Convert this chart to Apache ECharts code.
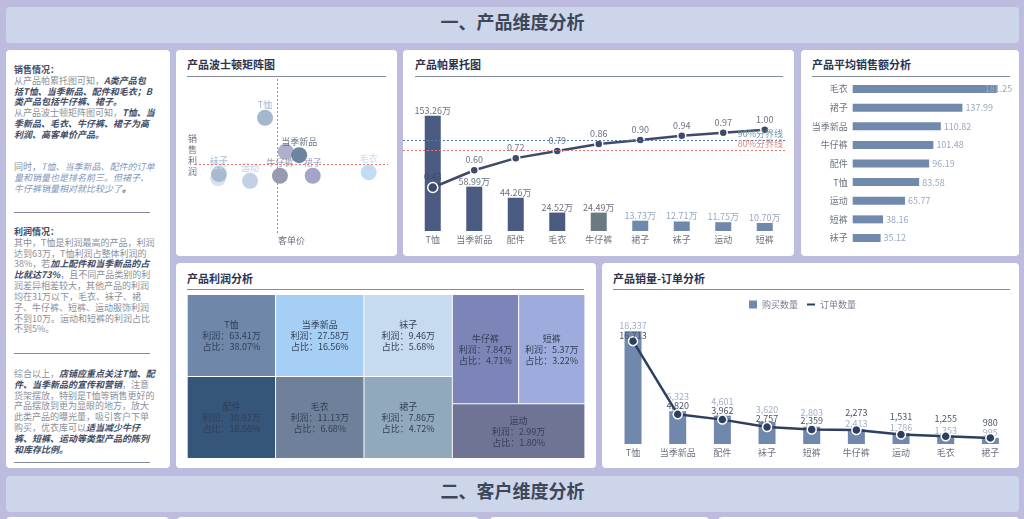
<!DOCTYPE html>
<html>
<head>
<meta charset="utf-8">
<title>产品维度分析</title>
<script src="https://cdn.jsdelivr.net/npm/echarts@6/dist/echarts.min.js"></script>
<style>
  html, body { margin: 0; padding: 0; width: 1024px; height: 519px; overflow: hidden; background: #bdbcdf; }
  body { position: relative; font-family: 'Noto Sans CJK SC', sans-serif; }
  .box { position: absolute; background: #fff; border-radius: 4px; }
  .bar { position: absolute; left: 6px; width: 1013px; height: 36px; background: #cdd5ea; border-radius: 4px;
         color: #3e4759; font-size: 18px; font-weight: bold; line-height: 28px; text-align: center; }
  .head { position: absolute; height: 14px; font-size: 11px; line-height: 14px; font-weight: bold; color: #2b3350;
          border-bottom: 0; }
  .rule { position: absolute; height: 1px; background: #858b9f; }
  .txt { position: absolute; left: 14px; width: 156px; font-size: 9px; line-height: 10.83px; color: #8b8f99; white-space: nowrap; }
  .txt b { color: #3f4c66; font-style: italic; }
  .txt i { color: #7f97bd; }
  .txt u { color: #3f4c66; font-weight: bold; text-decoration: none; }
  #chart { position: absolute; left: 0; top: 0; width: 1024px; height: 519px; }
</style>
</head>
<body>
<div class="bar" style="top:7px">一、产品维度分析</div>
<div class="box" style="left:6px;top:50px;width:164px;height:418px"></div>
<div class="box" style="left:176px;top:50px;width:221px;height:206px"></div>
<div class="box" style="left:403px;top:50px;width:391px;height:206px"></div>
<div class="box" style="left:801px;top:50px;width:218px;height:206px"></div>
<div class="box" style="left:176px;top:263px;width:420px;height:205px"></div>
<div class="box" style="left:602px;top:263px;width:417px;height:205px"></div>
<div class="bar" style="top:476px">二、客户维度分析</div>
<div class="box" style="left:6px;top:517px;width:163px;height:8px"></div>
<div class="box" style="left:177px;top:517px;width:302px;height:8px"></div>
<div class="box" style="left:490px;top:517px;width:219px;height:8px"></div>
<div class="box" style="left:718px;top:517px;width:301px;height:8px"></div>

<div class="head" style="left:187px;top:57px">产品波士顿矩阵图</div>
<div class="rule" style="left:187px;top:76px;width:199px"></div>
<div class="head" style="left:415px;top:57px">产品帕累托图</div>
<div class="rule" style="left:415px;top:76px;width:368px"></div>
<div class="head" style="left:812px;top:57px">产品平均销售额分析</div>
<div class="rule" style="left:812px;top:76px;width:198px"></div>
<div class="head" style="left:187px;top:271px">产品利润分析</div>
<div class="rule" style="left:187px;top:289px;width:397px"></div>
<div class="head" style="left:613px;top:271px">产品销量-订单分析</div>
<div class="rule" style="left:613px;top:289px;width:397px"></div>

<div class="txt" style="top:65px"><u>销售情况：</u><br>从产品帕累托图可知，<b>A类产品包<br>括T恤、当季新品、配件和毛衣；B<br>类产品包括牛仔裤、裙子。</b><br>从产品波士顿矩阵图可知，<b>T恤、当<br>季新品、毛衣、牛仔裤、裙子为高<br>利润、高客单价产品。</b></div>
<div class="txt" style="top:162px">同时，<i>T恤、当季新品、配件的订单<br>量和销量也是排名前三。但裙子、<br>牛仔裤销量相对就比较少了<b>。</b></i></div>
<div class="rule" style="left:14px;top:212px;width:136px"></div>
<div class="txt" style="top:227px"><u>利润情况：</u><br>其中，T恤是利润最高的产品，利润<br>达到63万，T恤利润占整体利润的<br>38%，若<b>加上配件和当季新品的占<br>比就达73%</b>，且不同产品类别的利<br>润差异相差较大，其他产品的利润<br>均在31万以下，毛衣、袜子、裙<br>子、牛仔裤、短裤、运动服饰利润<br>不到10万。运动和短裤的利润占比<br>不到5%。</div>
<div class="rule" style="left:14px;top:353px;width:136px"></div>
<div class="txt" style="top:369px">综合以上，<b>店铺应重点关注T恤、配<br>件、当季新品的宣传和营销</b>，注意<br>货架摆放，特别是T恤等销售更好的<br>产品摆放到更为显眼的地方，放大<br>此类产品的曝光量，吸引客户下单<br>购买，优衣库可以<b>适当减少牛仔<br>裤、短裤、运动等类型产品的陈列<br>和库存比例。</b></div>
<div class="rule" style="left:14px;top:462px;width:136px"></div>

<div id="chart"></div>

<script>
// 波士顿矩阵
var bcgNames = ['配件', 'T恤', '当季新品', '牛仔裤', '裙子', '毛衣', '短裤', '袜子', '运动']
var bcgPrice = [47, 36.3, 54, 44, 61, 90, 12, 12.4, 28.5]
var bcgProfit = [30.91, 63.41, 27.58, 7.84, 7.86, 11.13, 5.37, 9.46, 2.99]
var bcgColors = ['#a9a8c4', '#9db0cb', '#5f7a96', '#8e93a8', '#9a9dc2', '#bcd9f2', '#d3dff0', '#a3b9cd', '#bfcbe6']

// 帕累托
var paretoNames = ['T恤', '当季新品', '配件', '毛衣', '牛仔裤', '裙子', '袜子', '运动', '短裤']
var paretoSales = [153.26, 58.99, 44.26, 24.52, 24.49, 13.73, 12.71, 11.75, 10.70]
var paretoCum = [0.43, 0.60, 0.72, 0.79, 0.86, 0.90, 0.94, 0.97, 1.00]
var paretoColors = ['#4a5a80', '#4a5a80', '#4a5a80', '#4a5a80', '#6a7a80', '#6f88ab', '#6f88ab', '#6f88ab', '#6f88ab']
var paretoLabelColors = ['#6b7280', '#6b7280', '#6b7280', '#6b7280', '#6b7280', '#98a7c0', '#98a7c0', '#98a7c0', '#98a7c0']

// 平均销售额
var avgNames = ['毛衣', '裙子', '当季新品', '牛仔裤', '配件', 'T恤', '运动', '短裤', '袜子']
var avgSales = [181.25, 137.99, 110.82, 101.48, 96.19, 83.58, 65.77, 38.16, 35.12]

// 利润矩形树图，格子面积相同
var treeNames = ['T恤', '配件', '当季新品', '毛衣', '袜子', '裙子', '牛仔裤', '短裤', '运动']
var treeProfit = ['63.41', '30.91', '27.58', '11.13', '9.46', '7.86', '7.84', '5.37', '2.99']
var treeShare = ['38.07', '18.56', '16.56', '6.68', '5.68', '4.72', '4.71', '3.22', '1.80']
var treeColors = ['#6f88a9', '#35557a', '#a6cff5', '#6f809b', '#c6daf0', '#90a9bc', '#7d85b8', '#9dacdc', '#6f7494']

// 销量-订单
var comboNames = ['T恤', '当季新品', '配件', '袜子', '短裤', '牛仔裤', '运动', '毛衣', '裙子']
var buyCount = [18337, 5323, 4601, 3620, 2803, 2413, 1786, 1353, 995]
var orderCount = [16713, 4820, 3962, 2757, 2359, 2273, 1531, 1255, 980]
var buyLabelShift = [0, -9, -9, -7, -9, 0, 0, 0, 0]
var orderLabelShift = [4, 1, 1, 1, 1, -8, -8, -8, -6]

var fontName = 'Noto Sans CJK SC'
var grey = '#6b7280'

function mean(list) {
  return list.reduce(function (a, b) { return a + b }, 0) / list.length
}

var bcgData = bcgNames.map(function (name, i) {
  return {
    name: name,
    value: [bcgPrice[i], bcgProfit[i]],
    itemStyle: { color: bcgColors[i] },
    // 配件的标签被当季新品盖住
    label: { show: name !== '配件', color: bcgColors[i] === '#5f7a96' ? '#5c6b80' : bcgColors[i] },
  }
})

var paretoBars = paretoSales.map(function (v, i) {
  return {
    value: v,
    itemStyle: { color: paretoColors[i] },
    label: { color: paretoLabelColors[i] },
  }
})

var paretoLine = paretoCum.map(function (v, i) {
  return i === 0 ? { value: v, symbolSize: 10, label: { color: '#3f4a6b' } } : v
})

var avgBars = avgSales.map(function (v, i) {
  // 最长的条，标签被挤回条内
  return i === 0 ? { value: v, label: { offset: [-15, 0] } } : v
})

var treeData = treeNames.map(function (name, i) {
  return {
    name: name,
    value: 1,
    itemStyle: { color: treeColors[i] },
  }
})

var option = {
  animation: false,
  textStyle: { fontFamily: fontName, fontSize: 9 },
  legend: {
    left: 749,
    top: 300,
    padding: 0,
    itemWidth: 8,
    itemHeight: 8,
    itemGap: 8,
    textStyle: { color: '#7a8194', fontSize: 9, fontFamily: fontName },
    data: [
      { name: '购买数量', icon: 'rect', itemStyle: { color: '#7088ab' } },
      { name: '订单数量', itemStyle: { opacity: 0 }, lineStyle: { color: '#2c3f5f', width: 2 } },
    ],
  },
  grid: [
    { left: 195, top: 78, width: 193, height: 155 },
    { left: 412, top: 80, width: 373.5, height: 151 },
    { left: 852.7, top: 79.7, width: 159, height: 167.6 },
    { left: 610.7, top: 300, width: 402, height: 144 },
  ],
  xAxis: [
    {
      gridIndex: 0,
      type: 'value',
      min: 0,
      max: 100,
      name: '客单价',
      nameLocation: 'middle',
      nameGap: 3,
      nameTextStyle: { color: grey, fontSize: 9 },
      axisLine: { show: false, onZero: false },
      axisTick: { show: false },
      axisLabel: { show: false },
      splitLine: { show: false },
    },
    {
      gridIndex: 1,
      type: 'category',
      data: paretoNames,
      axisLine: { show: false },
      axisTick: { show: false },
      axisLabel: { color: grey, fontSize: 9, margin: 4, interval: 0 },
    },
    {
      gridIndex: 2,
      type: 'value',
      min: 0,
      max: 200,
      show: false,
    },
    {
      gridIndex: 3,
      type: 'category',
      data: comboNames,
      axisLine: { show: false },
      axisTick: { show: false },
      axisLabel: { color: grey, fontSize: 9, margin: 4, interval: 0 },
    },
  ],
  yAxis: [
    {
      gridIndex: 0,
      type: 'value',
      min: -47,
      max: 101.6,
      name: '销\n售\n利\n润',
      nameLocation: 'middle',
      nameRotate: 0,
      nameGap: -2,
      nameTextStyle: { color: grey, fontSize: 9, lineHeight: 11, padding: [10, 0, 0, 0] },
      axisLine: { show: false },
      axisTick: { show: false },
      axisLabel: { show: false },
      splitLine: { show: false },
    },
    { gridIndex: 1, type: 'value', min: 0, max: 201, show: false },
    { gridIndex: 1, type: 'value', min: 0, max: 1.492, show: false },
    {
      gridIndex: 2,
      type: 'category',
      data: avgNames,
      inverse: true,
      axisLine: { show: false },
      axisTick: { show: false },
      axisLabel: { color: grey, fontSize: 9, margin: 5, interval: 0 },
    },
    { gridIndex: 3, type: 'value', min: 0, max: 23400, show: false },
  ],
  series: [
    {
      type: 'scatter',
      xAxisIndex: 0,
      yAxisIndex: 0,
      symbolSize: 16,
      itemStyle: { opacity: 0.92 },
      label: { show: true, position: 'top', distance: 1, formatter: '{b}', fontSize: 9 },
      markLine: {
        silent: true,
        symbol: 'none',
        label: { show: false },
        data: [
          { xAxis: mean(bcgPrice), lineStyle: { color: '#e2766c', type: [2, 2], width: 1 } },
          { yAxis: mean(bcgProfit), lineStyle: { color: '#e2766c', type: [2, 2], width: 1 } },
        ],
      },
      data: bcgData,
    },
    {
      type: 'bar',
      xAxisIndex: 1,
      yAxisIndex: 1,
      barWidth: 16,
      label: {
        show: true,
        position: 'top',
        distance: 1,
        fontSize: 9,
        formatter: function (p) {
          return p.value.toFixed(2) + '万'
        },
      },
      data: paretoBars,
    },
    {
      type: 'line',
      xAxisIndex: 1,
      yAxisIndex: 2,
      symbol: 'circle',
      symbolSize: 8,
      lineStyle: { color: '#3f4a6b', width: 2.5 },
      itemStyle: { color: '#3f4a6b', borderColor: '#fff', borderWidth: 1.5 },
      label: {
        show: true,
        position: 'top',
        distance: 1,
        fontSize: 9,
        color: grey,
        formatter: function (p) {
          return p.value.toFixed(2)
        },
      },
      markLine: {
        silent: true,
        symbol: 'none',
        data: [
          [
            {
              yAxis: 0.9,
              x: 403,
              lineStyle: { color: '#4f7fb0', type: [2, 2], width: 1 },
              label: { formatter: '90%分界线', color: '#6f9aa8', position: 'insideEndTop', fontSize: 9, distance: 2 },
            },
            { yAxis: 0.9, x: 785 },
          ],
          [
            {
              yAxis: 0.8,
              x: 403,
              lineStyle: { color: '#e2766c', type: [2, 2], width: 1 },
              label: { formatter: '80%分界线', color: '#e08a80', position: 'insideEndTop', fontSize: 9, distance: 2 },
            },
            { yAxis: 0.8, x: 785 },
          ],
        ],
      },
      data: paretoLine,
    },
    {
      type: 'bar',
      xAxisIndex: 2,
      yAxisIndex: 3,
      barWidth: 8,
      itemStyle: { color: '#7189ad' },
      label: {
        show: true,
        position: 'right',
        distance: 3,
        fontSize: 9,
        color: '#9aa9c2',
        formatter: function (p) {
          return p.value.toFixed(2)
        },
      },
      data: avgBars,
    },
    {
      type: 'treemap',
      left: 187.7,
      top: 295,
      width: 396.7,
      height: 163,
      roam: false,
      nodeClick: false,
      sort: false,
      squareRatio: 1,
      breadcrumb: { show: false },
      levels: [{ itemStyle: { gapWidth: 1, borderWidth: 0 } }],
      label: {
        show: true,
        position: 'inside',
        align: 'center',
        verticalAlign: 'middle',
        color: '#333e55',
        fontSize: 9,
        lineHeight: 11,
        formatter: function (p) {
          var i = treeNames.indexOf(p.name)
          return p.name + '\n利润：' + treeProfit[i] + '万\n占比：' + treeShare[i] + '%'
        },
      },
      data: treeData,
    },
    {
      name: '购买数量',
      type: 'bar',
      xAxisIndex: 3,
      yAxisIndex: 4,
      barWidth: 17,
      itemStyle: { color: '#7088ab' },
      label: {
        show: true,
        position: 'top',
        distance: 1,
        fontSize: 9,
        color: '#a4afc6',
        formatter: function (p) {
          return p.value.toLocaleString('en-US')
        },
      },
      labelLayout: function (p) {
        return { dy: buyLabelShift[p.dataIndex] }
      },
      data: buyCount,
    },
    {
      name: '订单数量',
      type: 'line',
      xAxisIndex: 3,
      yAxisIndex: 4,
      symbol: 'circle',
      symbolSize: 9,
      lineStyle: { color: '#2c3f5f', width: 2.5 },
      itemStyle: { color: '#2c3f5f', borderColor: '#fff', borderWidth: 1.5 },
      label: {
        show: true,
        position: 'top',
        distance: 0,
        fontSize: 9,
        color: '#4a5468',
        formatter: function (p) {
          return p.value.toLocaleString('en-US')
        },
      },
      labelLayout: function (p) {
        return { dy: orderLabelShift[p.dataIndex] }
      },
      data: orderCount,
    },
  ],
}

var myChart = echarts.init(document.getElementById('chart'))
myChart.setOption(option)
</script>
</body>
</html>
